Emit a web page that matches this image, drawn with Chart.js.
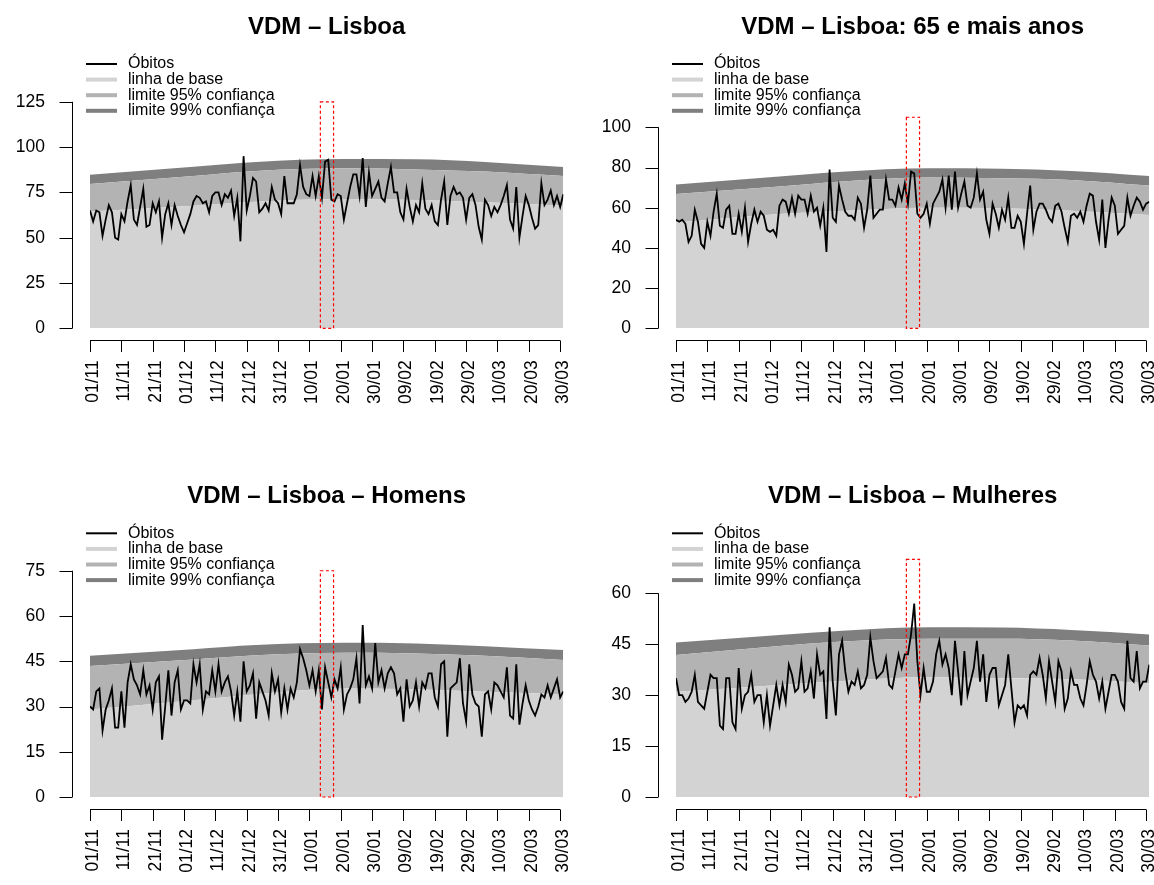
<!DOCTYPE html>
<html lang="pt">
<head>
<meta charset="utf-8">
<title>VDM – Lisboa</title>
<script src="https://cdn.jsdelivr.net/npm/chart.js@4.4.1/dist/chart.umd.min.js"></script>
<style>
    html, body { margin: 0; padding: 0; background: #ffffff; }
    #grafico { position: relative; width: 1154px; height: 885px; }
    .painel { position: absolute; }
</style>
</head>
<body>
<div id="grafico">
    <canvas class="painel" id="g1" width="577" height="442" style="left:0;top:0"></canvas>
    <canvas class="painel" id="g2" width="577" height="442" style="left:577px;top:0"></canvas>
    <canvas class="painel" id="g3" width="577" height="443" style="left:0;top:442px"></canvas>
    <canvas class="painel" id="g4" width="577" height="443" style="left:577px;top:442px"></canvas>
</div>
<script>
"use strict";
/* Eixo x: dias desde 01/11 */
const diasTicks = [0, 10, 20, 30, 40, 50, 60, 70, 80, 90, 100, 110, 120, 130, 140, 150];
const rotulosX = ["01/11", "11/11", "21/11", "01/12", "11/12", "21/12", "31/12", "10/01",
    "20/01", "30/01", "09/02", "19/02", "29/02", "10/03", "20/03", "30/03"];
const legendas = ["Óbitos", "linha de base", "limite 95% confiança", "limite 99% confiança"];
const titulos = ["VDM – Lisboa", "VDM – Lisboa: 65 e mais anos", "VDM – Lisboa – Homens", "VDM – Lisboa – Mulheres"];

/* Óbitos diários (01/11 a 31/03) */
const obitosTotal = [65,59,65,64,51,60,68,64,50,49, 63,59,70,79,60,57,67,77,56,57,
    69,64,70,50,63,69,57,68,62,57, 53,58,63,70,73,72,69,70,64,73,
    75,75,68,74,72,76,62,72,48,95, 65,73,83,81,64,66,69,65,78,71,
    69,63,84,69,69,69,74,90,78,74, 73,84,73,84,72,92,93,71,70,74,
    73,60,69,78,85,85,73,94,67,86, 73,77,81,72,70,80,89,75,75,64,
    60,77,67,59,68,64,80,66,63,68, 59,57,71,81,57,73,78,74,75,72,
    60,72,74,68,56,49,71,68,62,67, 64,68,73,79,60,55,78,50,62,73,
    68,61,55,57,80,68,71,76,68,73, 67,74];
const obitos65 = [54,53,54,52,43,46,59,53,42,40, 53,46,58,67,51,50,59,61,47,47,
    57,48,60,43,52,59,53,58,56,49, 48,49,46,61,64,63,57,65,57,66,
    64,64,57,66,58,60,51,60,38,79, 55,53,71,64,58,56,56,54,65,62,
    50,59,76,55,57,59,59,74,64,64, 61,70,64,72,62,78,77,57,55,57,
    62,52,62,65,68,74,60,76,59,78, 60,67,73,61,60,65,77,64,68,54,
    47,62,57,50,59,54,65,50,50,56, 53,42,57,71,49,58,62,62,59,55,
    53,61,62,58,50,43,56,57,55,58, 53,61,67,66,53,44,64,40,54,65,
    61,47,49,51,65,56,61,65,63,59, 62,63];
const obitosHomens = [30,29,35,36,22,29,32,36,23,23, 35,23,38,44,39,37,34,42,34,37,
    29,38,40,19,30,42,27,38,42,29, 32,32,31,44,38,44,29,35,34,42,
    35,44,35,38,40,35,27,35,25,45, 35,37,41,26,38,35,32,27,41,35,
    39,28,36,29,36,33,38,49,46,42, 37,42,35,42,29,43,38,33,39,36,
    43,29,34,36,39,46,31,57,37,40, 36,51,38,42,36,41,43,41,34,36,
    25,39,30,32,38,30,38,36,41,41, 33,30,44,45,20,36,37,38,46,31,
    25,44,34,31,30,20,34,35,29,38, 37,35,33,43,27,26,44,24,31,37,
    32,29,27,30,34,33,37,33,36,39, 33,35];
const obitosMulheres = [35,30,30,28,29,31,36,28,27,26, 31,36,35,35,21,20,35,35,22,20,
    38,26,30,31,36,28,30,30,22,30, 21,27,33,27,33,28,39,36,31,32,
    40,31,32,37,29,42,36,37,23,50, 34,24,42,46,37,31,34,33,37,32,
    33,36,47,40,35,36,37,41,33,32, 37,42,38,42,42,48,57,40,30,38,
    31,31,34,42,46,39,42,38,30,46, 37,27,43,30,34,38,46,34,42,28,
    36,38,38,27,30,33,42,32,22,27, 26,27,24,36,37,36,41,36,29,40,
    34,28,40,37,26,29,37,33,33,29, 27,33,40,36,34,29,34,26,31,36,
    36,34,28,26,46,35,34,43,32,34, 34,39];

/* Linha de base e limites (lidos em alguns dias) */
const diasBanda = [0, 33, 53, 81, 104, 126, 151];
const baseTotal = [64.4, 67.7, 69.9, 71.4, 70.8, 69.5, 67.7];
const lim95Total = [79.7, 84, 86.8, 88.3, 87.7, 86.5, 84];
const lim99Total = [84.8, 89.2, 91.8, 93.4, 93.3, 91.8, 89];
const base65 = [52.6, 56.9, 58.4, 60, 59.7, 58.5, 56.4];
const lim95_65 = [66.8, 70.5, 73, 75, 74.6, 73.8, 71];
const lim99_65 = [71.6, 75.5, 77.9, 79.6, 79.4, 78.3, 75.8];
const baseHomens = [29, 32.1, 34.1, 36, 35.7, 34.9, 34.1];
const lim95Homens = [43.4, 45.6, 47, 47.8, 47.6, 46.8, 45.4];
const lim99Homens = [46.8, 49, 50.4, 51.1, 50.9, 50, 48.7];
const baseMulheres = [31, 33, 34.2, 35.3, 35, 34.7, 33.5];
const lim95Mulheres = [41.8, 44.5, 45.8, 46.6, 46.6, 46.1, 44.6];
const lim99Mulheres = [45.5, 47.7, 49, 50, 49.9, 49.2, 47.9];

/* Ticks do eixo y */
const yTicksTotal = [0, 25, 50, 75, 100, 125];
const yTicks65 = [0, 20, 40, 60, 80, 100];
const yTicksHomens = [0, 15, 30, 45, 60, 75];
const yTicksMulheres = [0, 15, 30, 45, 60];

/* Janela assinalada a vermelho: [dia inicial, dia final, topo] */
const janelaTotal = [73.5, 77.7, 125];
const janela65 = [73.5, 77.7, 105];
const janelaHomens = [73.5, 77.7, 75];
const janelaMulheres = [73.5, 77.7, 70];

const FONTE = "'Liberation Sans', Arial, Helvetica, sans-serif";
const cores = { obitos: "#000000", base: "#d3d3d3", lim95: "#b3b3b3", lim99: "#7f7f7f" };

/* Eixos ao estilo R, legenda e janela */
const extrasR = {
    id: "extrasR",
    afterDatasetsDraw(chart, args, opts) {
        const ctx = chart.ctx;
        const sx = chart.scales.x;
        const sy = chart.scales.y;
        const area = chart.chartArea;

        // janela vermelha
        ctx.save();
        ctx.strokeStyle = "#ff0000";
        ctx.lineWidth = 1.2;
        ctx.setLineDash([3, 2.5]);
        const jx0 = sx.getPixelForValue(opts.janela[0]);
        const jx1 = sx.getPixelForValue(opts.janela[1]);
        const jyt = sy.getPixelForValue(opts.janela[2]);
        const jyb = sy.getPixelForValue(0);
        ctx.strokeRect(jx0, jyt, jx1 - jx0, jyb - jyt);
        ctx.restore();

        // eixo y
        ctx.save();
        ctx.strokeStyle = "#000000";
        ctx.lineWidth = 1;
        const ax = Math.round(area.left - 18.5) + 0.5;
        const yt = opts.yTicks;
        ctx.beginPath();
        ctx.moveTo(ax, sy.getPixelForValue(yt[0]));
        ctx.lineTo(ax, sy.getPixelForValue(yt[yt.length - 1]));
        yt.forEach(v => {
            const p = Math.round(sy.getPixelForValue(v)) + 0.5;
            ctx.moveTo(ax, p);
            ctx.lineTo(ax - 13, p);
        });
        // eixo x
        const ay = Math.round(area.bottom + 12) + 0.5;
        ctx.moveTo(sx.getPixelForValue(diasTicks[0]), ay);
        ctx.lineTo(sx.getPixelForValue(diasTicks[diasTicks.length - 1]), ay);
        diasTicks.forEach(d => {
            const p = Math.round(sx.getPixelForValue(d)) + 0.5;
            ctx.moveTo(p, ay);
            ctx.lineTo(p, ay + 11.5);
        });
        ctx.stroke();
        ctx.restore();

        // legenda
        ctx.save();
        ctx.font = "16px " + FONTE;
        ctx.textBaseline = "middle";
        ctx.fillStyle = "#000000";
        const lx = area.left - 4;
        chart.data.datasets.forEach((ds, i) => {
            const ly = opts.legendaTopo + i * 15.6;
            ctx.strokeStyle = ds.corLegenda;
            ctx.lineWidth = i === 0 ? 2 : 4;
            ctx.beginPath();
            ctx.moveTo(lx, ly);
            ctx.lineTo(lx + 31, ly);
            ctx.stroke();
            ctx.fillText(ds.label, lx + 42, ly);
        });
        ctx.restore();
    }
};

function pontos(dias, valores) {
    return valores.map((v, i) => ({ x: dias[i], y: v }));
}

function crearPanel(id, titulo, obitos, base, lim95, lim99, yTicks, yMax, janela, g) {
    const diasObitos = obitos.map((v, i) => i);
    const banda = {
        pointRadius: 0,
        borderWidth: 0,
        cubicInterpolationMode: "monotone"
    };
    new Chart(document.getElementById(id), {
        type: "line",
        data: {
            datasets: [
                {
                    label: legendas[0],
                    data: pontos(diasObitos, obitos),
                    borderColor: cores.obitos,
                    corLegenda: cores.obitos,
                    borderWidth: 1.8,
                    pointRadius: 0,
                    tension: 0,
                    fill: false
                },
                Object.assign({ label: legendas[1], data: pontos(diasBanda, base),
                    backgroundColor: cores.base, borderColor: cores.base, corLegenda: cores.base, fill: "origin" }, banda),
                Object.assign({ label: legendas[2], data: pontos(diasBanda, lim95),
                    backgroundColor: cores.lim95, borderColor: cores.lim95, corLegenda: cores.lim95, fill: "-1" }, banda),
                Object.assign({ label: legendas[3], data: pontos(diasBanda, lim99),
                    backgroundColor: cores.lim99, borderColor: cores.lim99, corLegenda: cores.lim99, fill: "-1" }, banda)
            ]
        },
        options: {
            responsive: false,
            animation: false,
            events: [],
            layout: { padding: { left: 0, right: g.direita, top: 0, bottom: 0 } },
            plugins: {
                legend: { display: false },
                tooltip: { enabled: false },
                title: {
                    display: true,
                    text: titulo,
                    fullSize: false,
                    color: "#000000",
                    font: { family: FONTE, size: 24, weight: "bold", lineHeight: 1.2 },
                    padding: { top: g.tituloTopo, bottom: g.tituloBaixo }
                },
                extrasR: { janela: janela, yTicks: yTicks, legendaTopo: g.legendaTopo }
            },
            scales: {
                x: {
                    type: "linear",
                    min: 0,
                    max: 151,
                    grid: { display: false, drawTicks: false },
                    border: { display: false },
                    afterBuildTicks: s => { s.ticks = diasTicks.map(v => ({ value: v })); },
                    afterFit: s => { s.height = g.alturaX; s.paddingLeft = 0; s.paddingRight = 0; },
                    ticks: {
                        autoSkip: false,
                        minRotation: 90,
                        maxRotation: 90,
                        padding: 32,
                        labelOffset: 3,
                        color: "#000000",
                        font: { family: FONTE, size: 17.5 },
                        callback: (v, i) => rotulosX[i]
                    }
                },
                y: {
                    type: "linear",
                    min: 0,
                    max: yMax,
                    grid: { display: false, drawTicks: false },
                    border: { display: false },
                    afterBuildTicks: s => { s.ticks = yTicks.map(v => ({ value: v })); },
                    afterFit: s => { s.width = g.larguraY; s.paddingTop = 0; s.paddingBottom = 0; },
                    ticks: {
                        padding: 45,
                        color: "#000000",
                        font: { family: FONTE, size: 17.5 },
                        callback: v => String(v)
                    }
                }
            }
        },
        plugins: [extrasR]
    });
}

/* Geometria de cada painel */
const geoEsq = { larguraY: 90, direita: 13.7 };
const geoDir = { larguraY: 99, direita: 4.7 };
const geoCima = { alturaX: 113.7, tituloTopo: 13.3, legendaTopo: 64 };
const geoBaixo = { alturaX: 88, tituloTopo: 40.3, legendaTopo: 91.3 };

document.addEventListener("DOMContentLoaded", () => {
    crearPanel("g1", titulos[0], obitosTotal, baseTotal, lim95Total, lim99Total, yTicksTotal, 150, janelaTotal,
        Object.assign({ tituloBaixo: 14.4 }, geoEsq, geoCima));
    crearPanel("g2", titulos[1], obitos65, base65, lim95_65, lim99_65, yTicks65, 135, janela65,
        Object.assign({ tituloBaixo: 14.85 }, geoDir, geoCima));
    crearPanel("g3", titulos[2], obitosHomens, baseHomens, lim95Homens, lim99Homens, yTicksHomens, 90, janelaHomens,
        Object.assign({ tituloBaixo: 14.4 }, geoEsq, geoBaixo));
    crearPanel("g4", titulos[3], obitosMulheres, baseMulheres, lim95Mulheres, lim99Mulheres, yTicksMulheres, 80, janelaMulheres,
        Object.assign({ tituloBaixo: 14.3 }, geoDir, geoBaixo));
});
</script>
</body>
</html>
